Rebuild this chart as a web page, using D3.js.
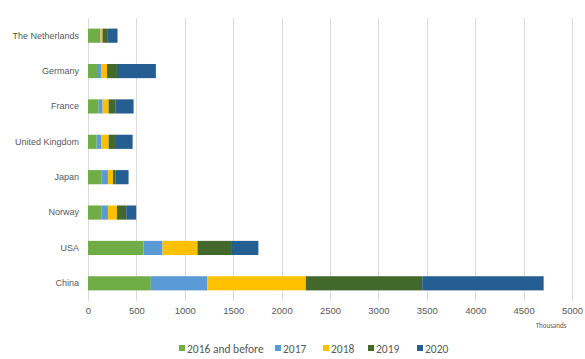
<!DOCTYPE html>
<html>
<head>
<meta charset="utf-8">
<script src="https://cdn.jsdelivr.net/npm/d3@7"></script>
<style>
  body { margin: 0; background: #fff; }
  svg { font-family: Calibri, Carlito, "Open Sans", sans-serif; }
</style>
</head>
<body>
<div id="chart-area"></div>
<script>
var countries = ["The Netherlands", "Germany", "France", "United Kingdom", "Japan", "Norway", "USA", "China"];
var seriesNames = ["2016 and before", "2017", "2018", "2019", "2020"];
var v2016 = [125, 93, 110, 89, 137, 137, 574, 649];
var v2017 = [5, 41, 41, 48, 69, 69, 196, 584];
var v2018 = [20, 62, 62, 76, 52, 93, 361, 1017];
var v2019 = [55, 103, 69, 76, 24, 96, 347, 1203];
var v2020 = [100, 402, 189, 172, 137, 103, 282, 1254];
var xTicks = [0, 500, 1000, 1500, 2000, 2500, 3000, 3500, 4000, 4500, 5000];
var colors = ["#70AD47", "#5B9BD5", "#FFC000", "#43682B", "#255E91"];

var margin = { top: 18, bottom: 58, left: 88, right: 12 };
var width  = 585 - margin.left - margin.right;
var height = 359 - margin.top  - margin.bottom;

var svg = d3.select("#chart-area")
    .append("svg")
        .attr("width", 585)
        .attr("height", 359);

var g = svg.append("g")
    .attr("transform", "translate(" + margin.left + ", " + margin.top + ")");

var rows = countries.map(function(c, i) {
    return { name: c, "2016 and before": v2016[i], "2017": v2017[i], "2018": v2018[i], "2019": v2019[i], "2020": v2020[i] };
});

var stack = d3.stack().keys(seriesNames)(rows);

var x = d3.scaleLinear()
    .domain([0, 5000])
    .range([0, width - 1]);

var y = d3.scaleBand()
    .domain(countries)
    .range([0, height])
    .paddingInner(0.6)
    .paddingOuter(0.3);

// gridlines
g.selectAll("line.grid")
    .data(xTicks)
    .enter()
    .append("line")
        .attr("class", "grid")
        .attr("x1", function(d) { return Math.round(x(d)) + 0.5; })
        .attr("x2", function(d) { return Math.round(x(d)) + 0.5; })
        .attr("y1", 0)
        .attr("y2", height)
        .attr("stroke", "#d9d9d9")
        .attr("stroke-width", 1);

// bars
g.selectAll("g.series")
    .data(stack)
    .enter()
    .append("g")
        .attr("class", "series")
        .attr("fill", function(d, i) { return colors[i]; })
    .selectAll("rect")
    .data(function(d) { return d; })
    .enter()
    .append("rect")
        .attr("x", function(d) { return x(d[0]); })
        .attr("width", function(d) { return x(d[1]) - x(d[0]); })
        .attr("y", function(d) { return y(d.data.name); })
        .attr("height", y.bandwidth());

// x axis
var xAxisCall = d3.axisBottom(x)
    .tickValues(xTicks)
    .tickSize(0)
    .tickPadding(6)
    .tickFormat(function(d) { return d; });

var xAxis = g.append("g")
    .attr("class", "x-axis")
    .attr("transform", "translate(0, " + height + ")")
    .call(xAxisCall);
xAxis.select(".domain").remove();
xAxis.selectAll("text")
    .attr("fill", "#595959")
    .attr("font-size", "9.5px");

// y axis
var yAxisCall = d3.axisLeft(y)
    .tickSize(0)
    .tickPadding(9);

var yAxis = g.append("g")
    .attr("class", "y-axis")
    .call(yAxisCall);
yAxis.select(".domain").remove();
yAxis.selectAll("text")
    .attr("fill", "#595959")
    .attr("font-size", "9px");

g.append("text")
    .attr("x", x(5000) - 21)
    .attr("y", height + 27)
    .attr("text-anchor", "middle")
    .attr("font-size", "7px")
    .attr("fill", "#595959")
    .text("Thousands");

// legend
var legendX = [179, 275, 323, 368, 417];
var legend = svg.append("g")
    .attr("class", "legend");

var items = legend.selectAll("g")
    .data(seriesNames)
    .enter()
    .append("g")
        .attr("transform", function(d, i) { return "translate(" + legendX[i] + ", 349)"; });

items.append("rect")
    .attr("x", 0)
    .attr("y", -4)
    .attr("width", 6)
    .attr("height", 6)
    .attr("fill", function(d, i) { return colors[i]; });

items.append("text")
    .attr("x", 8)
    .attr("y", 3.5)
    .attr("font-size", "11.5px")
    .attr("fill", "#595959")
    .text(function(d) { return d; });
</script>
</body>
</html>
